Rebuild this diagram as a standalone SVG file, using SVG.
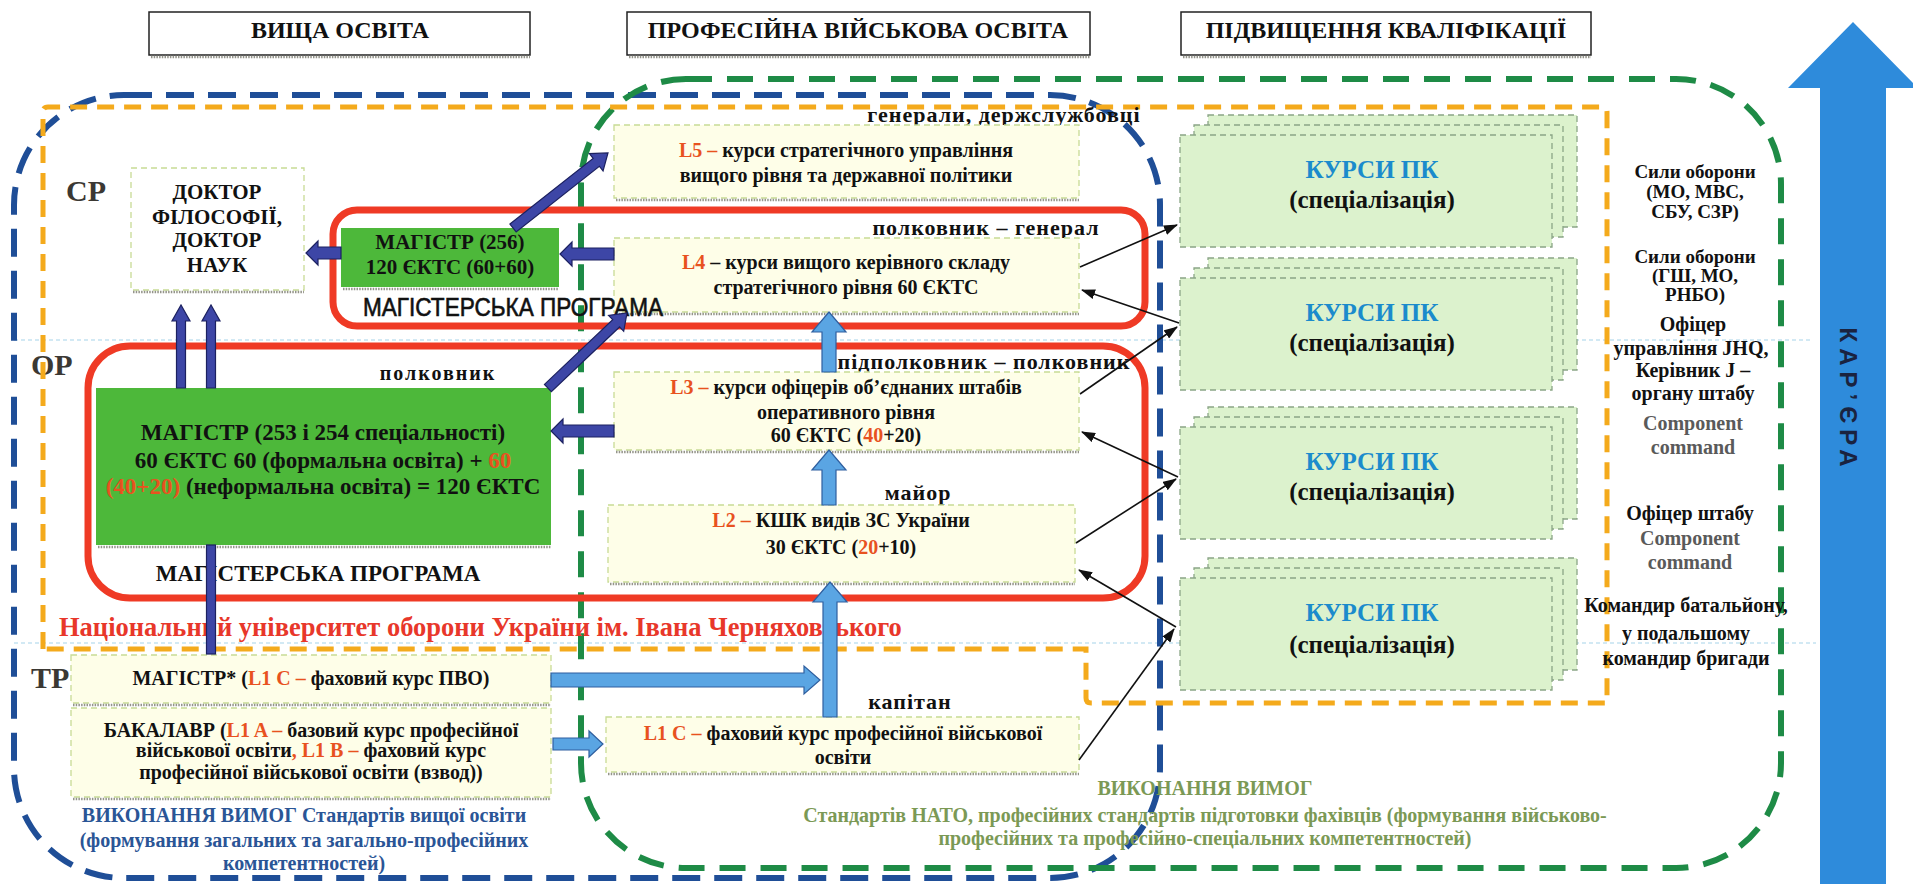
<svg xmlns="http://www.w3.org/2000/svg" width="1913" height="884" viewBox="0 0 1913 884">
<style>
text{font-family:'Liberation Serif','DejaVu Serif',serif;font-weight:bold;fill:#111}
.t{font-size:24px;text-anchor:middle}
.ttl{fill:#fff;stroke:#222;stroke-width:1.5}
.sh{stroke:#94948a;stroke-width:2.5;stroke-dasharray:1.5 1.2;fill:none}
.sep{stroke:#a6d3ea;stroke-width:1.2;stroke-dasharray:4 3;fill:none}
.lvl{font-size:30px;fill:#3b3833}
.lb{fill:#fefee8;stroke:#c8db95;stroke-width:1.3;stroke-dasharray:6 4}
.wb{fill:#ffffff;stroke:#c8db95;stroke-width:1.3;stroke-dasharray:6 4}
.gb{fill:#4db83a}
.kb{fill:#dcf2cd;stroke:#8aa586;stroke-width:1.3;stroke-dasharray:6 4}
.c{text-anchor:middle}
.s20{font-size:20px}
.s21{font-size:21px}
.s23{font-size:23px}
.r{fill:#e8521f}
.rk{font-size:22px;text-anchor:middle;letter-spacing:1px}
.side{font-size:20px;text-anchor:middle}
.sd{font-size:19px;text-anchor:middle}
.gr{fill:#5a5a5a}
.kp{fill:#1b8bcc;font-size:25px}
.navy{fill:#3d46a6;stroke:#1c2160;stroke-width:1.2}
.lblue{fill:#5aa5e3;stroke:#2f5f9f;stroke-width:1.2}
.thin{stroke:#111;stroke-width:1.6;fill:none;marker-end:url(#ah)}
.red{fill:none;stroke:#ef3a25;stroke-width:7}
</style>
<defs>
<marker id="ah" viewBox="0 0 14 10" refX="13" refY="5" markerWidth="14" markerHeight="10" markerUnits="userSpaceOnUse" orient="auto"><path d="M0,0 L14,5 L0,10 z" fill="#111"/></marker>
</defs>

<g id="separators">
<line class="sep" x1="14" y1="340" x2="1812" y2="340"/>
<line class="sep" x1="14" y1="643" x2="1816" y2="643"/>
</g>

<g id="levels">
<text class="lvl" x="66" y="201">СР</text>
<text class="lvl" x="31" y="375">ОР</text>
<text class="lvl" x="31" y="688">ТР</text>
</g>

<g id="areas">
<rect x="14" y="95" width="1146" height="783" rx="110" fill="none" stroke="#1f4e97" stroke-width="6" stroke-dasharray="28 14"/>
<rect x="581" y="79" width="1200" height="789" rx="105" fill="none" stroke="#1e8b46" stroke-width="6" stroke-dasharray="26 15"/>
<path d="M43,649 L43,112 Q43,107 48,107 L1602,107 Q1607,107 1607,112 L1607,703 L1091,703 Q1086,703 1086,698 L1086,649 Z" fill="none" stroke="#f4aa1c" stroke-width="5" stroke-dasharray="17 10"/>
</g>

<g id="title-higher"><rect class="ttl" x="149" y="12" width="381" height="43"/><line class="sh" x1="151" y1="57" x2="530" y2="57"/><text class="t" x="340" y="38">ВИЩА ОСВІТА</text></g>
<g id="title-military"><rect class="ttl" x="627" y="12" width="463" height="43"/><line class="sh" x1="629" y1="57" x2="1090" y2="57"/><text class="t" x="858" y="38">ПРОФЕСІЙНА ВІЙСЬКОВА ОСВІТА</text></g>
<g id="title-qualification"><rect class="ttl" x="1181" y="12" width="410" height="43"/><line class="sh" x1="1183" y1="57" x2="1591" y2="57"/><text class="t" x="1386" y="38">ПІДВИЩЕННЯ КВАЛІФІКАЦІЇ</text></g>

<g id="program-strategic-frame"><rect class="red" x="333" y="210" width="812" height="116" rx="24"/></g>
<g id="program-operational"><rect class="red" x="88" y="346" width="1057" height="252" rx="42"/>
<text class="c s23" x="318" y="581">МАГІСТЕРСЬКА ПРОГРАМА</text></g>

<g id="labels">
<text x="59" y="636" style="font-size:26.5px;fill:#e8372a">Національний університет оборони України ім. Івана Черняховського</text>
<text class="rk" x="1004" y="122">генерали, держслужбовці</text>
<text class="rk" x="986" y="235">полковник – генерал</text>
<text class="rk" x="984" y="369">підполковник – полковник</text>
<text class="rk" x="918" y="500">майор</text>
<text class="rk" x="910" y="709">капітан</text>
<text class="c" x="438" y="380" style="font-size:20px;letter-spacing:2px">полковник</text>
<text class="c s20" x="304" y="822" style="fill:#2a5596">ВИКОНАННЯ ВИМОГ Стандартів вищої освіти</text>
<text class="c s20" x="304" y="847" style="fill:#2a5596">(формування загальних та загально-професійних</text>
<text class="c s20" x="304" y="870" style="fill:#2a5596">компетентностей)</text>
<text class="c s20" x="1205" y="795" style="fill:#7b9955">ВИКОНАННЯ ВИМОГ</text>
<text class="c s20" x="1205" y="822" style="fill:#7b9955">Стандартів НАТО, професійних стандартів підготовки фахівців (формування військово-</text>
<text class="c s20" x="1205" y="845" style="fill:#7b9955">професійних та професійно-спеціальних компетентностей)</text>
</g>

<g id="positions">
<text class="sd" x="1695" y="178">Сили оборони</text>
<text class="sd" x="1695" y="198">(МО, МВС,</text>
<text class="sd" x="1695" y="218">СБУ, СЗР)</text>
<text class="sd" x="1695" y="263">Сили оборони</text>
<text class="sd" x="1695" y="282">(ГШ, МО,</text>
<text class="sd" x="1695" y="301">РНБО)</text>
<text class="side" x="1693" y="331">Офіцер</text>
<text class="side" x="1691" y="355">управління JHQ,</text>
<text class="side" x="1693" y="377">Керівник J –</text>
<text class="side" x="1693" y="400">органу штабу</text>
<text class="side gr" x="1693" y="430">Component</text>
<text class="side gr" x="1693" y="454">command</text>
<text class="side" x="1690" y="520">Офіцер  штабу</text>
<text class="side gr" x="1690" y="545">Component</text>
<text class="side gr" x="1690" y="569">command</text>
<text class="side" x="1686" y="612">Командир батальйону,</text>
<text class="side" x="1686" y="640">у подальшому</text>
<text class="side" x="1686" y="665">командир бригади</text>
</g>

<g id="career">
<polygon points="1853,22 1918,88 1886,88 1886,884 1820,884 1820,88 1788,88" fill="#2e8bdb"/>
<text transform="translate(1840,400) rotate(90)" text-anchor="middle" style="font-family:'Liberation Sans','DejaVu Sans',sans-serif;font-size:24px;letter-spacing:6px;fill:#1a2340">КАР’ЄРА</text>
</g>

<g id="doctor"><rect class="wb" x="131" y="168" width="173" height="122"/><line class="sh" x1="133" y1="292" x2="304" y2="292"/>
<text class="c s21" x="217" y="199">ДОКТОР</text><text class="c s21" x="217" y="224">ФІЛОСОФІЇ,</text><text class="c s21" x="217" y="247">ДОКТОР</text><text class="c s21" x="217" y="272">НАУК</text></g>

<g id="master-256"><rect class="gb" x="341" y="228" width="218" height="59"/><line class="sh" x1="343" y1="289" x2="559" y2="289"/>
<text class="c s21" x="450" y="249">МАГІСТР (256)</text><text class="c s21" x="450" y="274">120 ЄКТС (60+60)</text></g>

<g id="master-253"><rect class="gb" x="96" y="388" width="455" height="157"/><line class="sh" x1="98" y1="547" x2="551" y2="547"/>
<text class="c s23" x="323" y="440">МАГІСТР (253 і 254 спеціальності)</text>
<text class="c s23" x="323" y="468">60 ЄКТС 60 (формальна освіта) + <tspan class="r">60</tspan></text>
<text class="c s23" x="323" y="494"><tspan class="r">(40+20)</tspan> (неформальна освіта) = 120 ЄКТС</text></g>

<g id="L5"><rect class="lb" x="614" y="125" width="465" height="73"/><line class="sh" x1="616" y1="200" x2="1079" y2="200"/>
<text class="c s20" x="846" y="157"><tspan class="r">L5 –</tspan> курси стратегічного управління</text>
<text class="c s20" x="846" y="182">вищого рівня та державної політики</text></g>

<g id="L4"><rect class="lb" x="614" y="238" width="465" height="74"/><line class="sh" x1="616" y1="314" x2="1079" y2="314"/>
<text class="c s20" x="846" y="269"><tspan class="r">L4</tspan> – курси вищого керівного складу</text>
<text class="c s20" x="846" y="294">стратегічного рівня  60 ЄКТС</text></g>

<g id="L3"><rect class="lb" x="614" y="372" width="465" height="78"/><line class="sh" x1="616" y1="452" x2="1079" y2="452"/>
<text class="c s20" x="846" y="394"><tspan class="r">L3 –</tspan> курси офіцерів об’єднаних штабів</text>
<text class="c s20" x="846" y="419">оперативного рівня</text>
<text class="c s20" x="846" y="442">60 ЄКТС (<tspan class="r">40</tspan>+20)</text></g>

<g id="L2"><rect class="lb" x="608" y="505" width="467" height="77"/><line class="sh" x1="610" y1="584" x2="1075" y2="584"/>
<text class="c s20" x="841" y="527"><tspan class="r">L2 –</tspan> КШК  видів  ЗС України</text>
<text class="c s20" x="841" y="554">30 ЄКТС (<tspan class="r">20</tspan>+10)</text></g>

<g id="L1C"><rect class="lb" x="606" y="717" width="473" height="55"/><line class="sh" x1="608" y1="774" x2="1079" y2="774"/>
<text class="c s20" x="843" y="740"><tspan class="r">L1 C –</tspan> фаховий курс професійної військової</text>
<text class="c s20" x="843" y="764">освіти</text></g>

<g id="master-L1C"><rect class="lb" x="71" y="655" width="480" height="48"/><line class="sh" x1="73" y1="705" x2="551" y2="705"/>
<text class="c s20" x="311" y="685">МАГІСТР* (<tspan class="r">L1 C –</tspan> фаховий  курс ПВО)</text></g>

<g id="bachelor"><rect class="lb" x="71" y="708" width="480" height="89"/><line class="sh" x1="73" y1="799" x2="551" y2="799"/>
<text class="c s20" x="311" y="737">БАКАЛАВР (<tspan class="r">L1 A –</tspan> базовий курс професійної</text>
<text class="c s20" x="311" y="757">військової освіти<tspan class="r">,  L1 B –</tspan> фаховий  курс</text>
<text class="c s20" x="311" y="779">професійної військової освіти (взвод))</text></g>

<g id="courses-1"><rect class="kb" x="1208" y="115" width="369" height="112"/><rect class="kb" x="1194" y="125" width="369" height="112"/><rect class="kb" x="1180" y="135" width="372" height="112"/>
<text class="c kp" x="1372" y="178">КУРСИ ПК</text><text class="c" style="font-size:25px" x="1372" y="208">(спеціалізація)</text></g>
<g id="courses-2"><rect class="kb" x="1208" y="258" width="369" height="112"/><rect class="kb" x="1194" y="268" width="369" height="112"/><rect class="kb" x="1180" y="278" width="372" height="112"/>
<text class="c kp" x="1372" y="321">КУРСИ ПК</text><text class="c" style="font-size:25px" x="1372" y="351">(спеціалізація)</text></g>
<g id="courses-3"><rect class="kb" x="1208" y="407" width="369" height="112"/><rect class="kb" x="1194" y="417" width="369" height="112"/><rect class="kb" x="1180" y="427" width="372" height="112"/>
<text class="c kp" x="1372" y="470">КУРСИ ПК</text><text class="c" style="font-size:25px" x="1372" y="500">(спеціалізація)</text></g>
<g id="courses-4"><rect class="kb" x="1208" y="558" width="369" height="112"/><rect class="kb" x="1194" y="568" width="369" height="112"/><rect class="kb" x="1180" y="578" width="372" height="112"/>
<text class="c kp" x="1372" y="621">КУРСИ ПК</text><text class="c" style="font-size:25px" x="1372" y="653">(спеціалізація)</text></g>

<g id="program-strategic-label">
<text x="363" y="316" textLength="300" lengthAdjust="spacingAndGlyphs" style="font-family:'Liberation Sans','DejaVu Sans',sans-serif;font-weight:normal;font-size:25px;stroke:#111;stroke-width:0.6">МАГІСТЕРСЬКА ПРОГРАМА</text>
</g>

<g id="connectors">
<rect class="navy" x="206.5" y="545" width="9" height="109"/>
<polygon class="navy" transform="translate(211,305) rotate(-90)" points="-83,-4.5 -16,-4.5 -16,-9 0,0 -16,9 -16,4.5 -83,4.5"/>
<polygon class="navy" transform="translate(181,305) rotate(-90)" points="-83,-4.5 -16,-4.5 -16,-9 0,0 -16,9 -16,4.5 -83,4.5"/>
<polygon class="navy" transform="translate(306,253) rotate(180)" points="-35,-6 -12,-6 -12,-12 0,0 -12,12 -12,6 -35,6"/>
<polygon class="navy" transform="translate(560,254) rotate(180)" points="-54,-6 -12,-6 -12,-12 0,0 -12,12 -12,6 -54,6"/>
<polygon class="navy" transform="translate(608,153) rotate(-38.3)" points="-121,-5 -15,-5 -15,-11 0,0 -15,11 -15,5 -121,5"/>
<polygon class="navy" transform="translate(627,313) rotate(-43.5)" points="-109,-5 -15,-5 -15,-11 0,0 -15,11 -15,5 -109,5"/>
<polygon class="navy" transform="translate(551,431) rotate(180)" points="-63,-6 -12,-6 -12,-12 0,0 -12,12 -12,6 -63,6"/>
<polygon class="lblue" transform="translate(829,312) rotate(-90)" points="-60,-7 -20,-7 -20,-17 0,0 -20,17 -20,7 -60,7"/>
<polygon class="lblue" transform="translate(829,450) rotate(-90)" points="-55,-7 -20,-7 -20,-17 0,0 -20,17 -20,7 -55,7"/>
<polygon class="lblue" transform="translate(830,582) rotate(-90)" points="-135,-7 -20,-7 -20,-17 0,0 -20,17 -20,7 -135,7"/>
<polygon class="lblue" transform="translate(820,680)" points="-269,-7 -16,-7 -16,-14 0,0 -16,14 -16,7 -269,7"/>
<polygon class="lblue" transform="translate(603,744)" points="-50,-6 -14,-6 -14,-13 0,0 -14,13 -14,6 -50,6"/>
<line class="thin" x1="1080" y1="267" x2="1177" y2="225"/>
<line class="thin" x1="1179" y1="323" x2="1082" y2="290"/>
<line class="thin" x1="1080" y1="394" x2="1177" y2="327"/>
<line class="thin" x1="1178" y1="477" x2="1082" y2="432"/>
<line class="thin" x1="1076" y1="543" x2="1176" y2="479"/>
<line class="thin" x1="1176" y1="627" x2="1079" y2="570"/>
<line class="thin" x1="1079" y1="760" x2="1174" y2="629"/>
</g>
</svg>
